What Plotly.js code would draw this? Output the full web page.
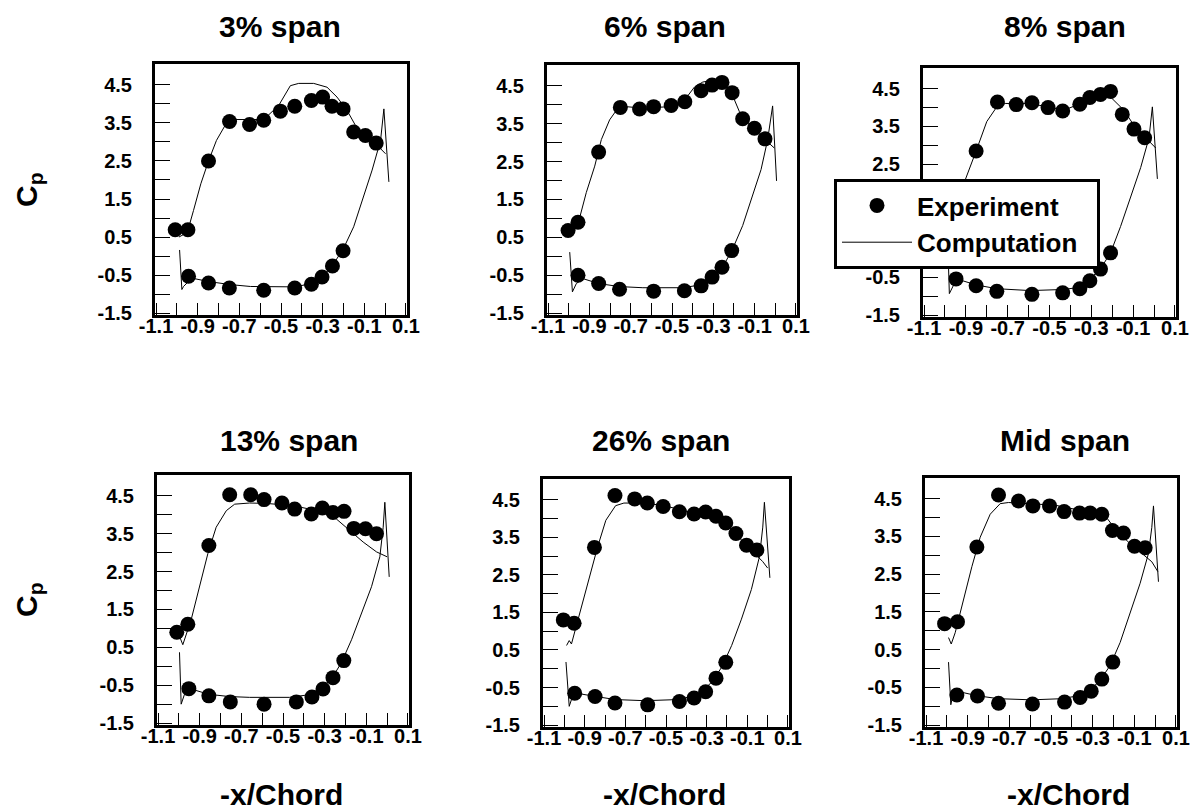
<!DOCTYPE html>
<html>
<head>
<meta charset="utf-8">
<script src="https://cdn.plot.ly/plotly-3.0.1.min.js"></script>
<style>html,body{margin:0;padding:0;background:#fff;}#chart{width:1202px;height:812px;}</style>
</head>
<body>
<div id="chart"></div>
<script>
// ---------- tick labels ----------
const xTickVals = [-1.1, -0.9, -0.7, -0.5, -0.3, -0.1, 0.1];
const xTickText = ['-1.1', '-0.9', '-0.7', '-0.5', '-0.3', '-0.1', '0.1'];
const xMinorVals = [-1.0, -0.8, -0.6, -0.4, -0.2, 0.0];
const yTickVals = [-1.5, -0.5, 0.5, 1.5, 2.5, 3.5, 4.5];
const yTickText = ['-1.5', '-0.5', '0.5', '1.5', '2.5', '3.5', '4.5'];
const yMinorVals = [-1, 0, 1, 2, 3, 4];
const panelTitles = ['3% span', '6% span', '8% span', '13% span', '26% span', 'Mid span'];

// ---------- 3% span ----------
const span03ExpX = [-1.008, -0.947, -0.848, -0.747, -0.651, -0.583, -0.503, -0.434, -0.354, -0.300, -0.255, -0.202, -0.151, -0.095, -0.043,
                    -0.944, -0.848, -0.748, -0.583, -0.434, -0.354, -0.303, -0.253, -0.202];
const span03ExpY = [0.69, 0.69, 2.50, 3.54, 3.46, 3.57, 3.81, 3.94, 4.09, 4.18, 3.94, 3.87, 3.26, 3.17, 2.97,
                    -0.53, -0.71, -0.84, -0.90, -0.84, -0.74, -0.55, -0.26, 0.14];
const span03CompX = [-0.99, -0.95, -0.92, -0.885, -0.848, -0.81, -0.768, -0.736, -0.583, -0.511, -0.455, -0.415, -0.343, -0.279, -0.231, -0.183, -0.143, -0.103, -0.054, 0.002, null,
                     -0.987, -0.976, -0.968, -0.928, -0.848, -0.744, -0.647, -0.567, -0.439, -0.375, -0.311, -0.255, -0.199, -0.151, -0.103, -0.0625, -0.022, -0.006, 0.018];
const span03CompY = [0.50, 0.62, 1.20, 1.90, 2.50, 3.04, 3.44, 3.59, 3.59, 3.96, 4.48, 4.54, 4.54, 4.44, 4.18, 3.83, 3.44, 3.22, 3.00, 2.69, null,
                     0.16, -0.88, -0.80, -0.58, -0.67, -0.75, -0.80, -0.81, -0.81, -0.75, -0.58, -0.27, 0.21, 0.77, 1.56, 2.26, 3.04, 3.87, 1.95];

// ---------- 6% span ----------
const span06ExpX = [-1.003, -0.955, -0.855, -0.750, -0.657, -0.589, -0.504, -0.438, -0.359, -0.306, -0.258, -0.209, -0.158, -0.101, -0.050,
                    -0.955, -0.855, -0.754, -0.589, -0.440, -0.359, -0.306, -0.258, -0.211];
const span06ExpY = [0.68, 0.90, 2.75, 3.93, 3.89, 3.95, 3.98, 4.08, 4.37, 4.52, 4.59, 4.32, 3.63, 3.38, 3.10,
                    -0.50, -0.72, -0.87, -0.92, -0.91, -0.78, -0.55, -0.29, 0.15];
const span06CompX = [-0.995, -0.955, -0.915, -0.874, -0.842, -0.802, -0.762, -0.721, -0.641, -0.512, -0.440, -0.391, -0.351, -0.303, -0.255, -0.214, -0.174, -0.126, -0.077, -0.005, null,
                     -0.995, -0.982, -0.963, -0.931, -0.855, -0.754, -0.641, -0.448, -0.367, -0.311, -0.254, -0.206, -0.158, -0.110, -0.069, -0.037, -0.013, 0.006];
const span06CompY = [0.55, 0.85, 1.68, 2.38, 3.08, 3.60, 3.91, 3.95, 3.91, 3.95, 4.12, 4.47, 4.60, 4.65, 4.60, 4.34, 3.82, 3.47, 3.21, 2.86, null,
                     0.11, -0.94, -0.72, -0.59, -0.72, -0.80, -0.83, -0.83, -0.76, -0.57, -0.28, 0.20, 0.81, 1.59, 2.29, 3.08, 3.97, 1.99];

// ---------- 8% span ----------
const span08ExpX = [-0.851, -0.749, -0.659, -0.584, -0.507, -0.437, -0.355, -0.307, -0.256, -0.208, -0.152, -0.096, -0.045,
                    -0.947, -0.851, -0.752, -0.584, -0.437, -0.355, -0.307, -0.256, -0.208];
const span08ExpY = [2.85, 4.15, 4.08, 4.13, 4.00, 3.91, 4.09, 4.27, 4.35, 4.43, 3.82, 3.43, 3.20,
                    -0.54, -0.72, -0.87, -0.95, -0.91, -0.80, -0.59, -0.28, 0.15];
const span08CompX = [-0.99, -0.95, -0.92, -0.904, -0.851, -0.800, -0.752, -0.712, -0.592, -0.512, -0.432, -0.368, -0.304, -0.248, -0.208, -0.144, -0.088, -0.040, 0.008, null,
                     -0.985, -0.979, -0.944, -0.851, -0.752, -0.592, -0.432, -0.352, -0.304, -0.256, -0.208, -0.160, -0.112, -0.064, -0.024, -0.008, 0.016];
const span08CompY = [0.55, 0.80, 1.50, 2.07, 2.85, 3.63, 4.02, 4.11, 4.11, 4.02, 3.93, 4.07, 4.28, 4.37, 4.28, 3.93, 3.46, 3.20, 2.93, null,
                     0.15, -0.93, -0.54, -0.70, -0.80, -0.85, -0.82, -0.76, -0.53, -0.27, 0.15, 0.85, 1.63, 2.41, 3.20, 4.02, 2.11];

// ---------- 13% span ----------
const span13ExpX = [-1.010, -0.957, -0.856, -0.756, -0.655, -0.591, -0.505, -0.444, -0.364, -0.311, -0.260, -0.207, -0.160, -0.104, -0.051,
                    -0.952, -0.856, -0.753, -0.591, -0.436, -0.361, -0.308, -0.260, -0.208];
const span13ExpY = [0.90, 1.11, 3.19, 4.53, 4.53, 4.40, 4.31, 4.15, 4.02, 4.18, 4.06, 4.09, 3.64, 3.63, 3.50,
                    -0.59, -0.78, -0.94, -1.00, -0.94, -0.81, -0.60, -0.30, 0.15];
const span13CompX = [-0.994, -0.981, -0.941, -0.901, -0.861, -0.821, -0.772, -0.732, -0.660, -0.580, -0.452, -0.372, -0.308, -0.244, -0.179, -0.115, -0.051, 0.000, null,
                     -0.997, -0.989, -0.973, -0.941, -0.856, -0.756, -0.660, -0.468, -0.388, -0.324, -0.268, -0.220, -0.171, -0.123, -0.075, -0.035, -0.019, -0.011, 0.010];
const span13CompY = [0.75, 0.57, 1.23, 2.10, 2.97, 3.67, 4.11, 4.28, 4.31, 4.30, 4.24, 4.15, 4.06, 3.89, 3.58, 3.28, 3.02, 2.89, null,
                     0.37, -1.00, -0.74, -0.60, -0.74, -0.80, -0.82, -0.82, -0.76, -0.60, -0.34, 0.09, 0.70, 1.40, 2.10, 2.89, 3.67, 4.33, 2.36];

// ---------- 26% span ----------
const span26ExpX = [-1.005, -0.952, -0.852, -0.751, -0.654, -0.592, -0.514, -0.434, -0.362, -0.305, -0.254, -0.206, -0.156, -0.104, -0.053,
                    -0.949, -0.849, -0.751, -0.590, -0.434, -0.362, -0.305, -0.254, -0.206];
const span26ExpY = [1.30, 1.21, 3.23, 4.61, 4.52, 4.41, 4.32, 4.18, 4.12, 4.17, 4.06, 3.88, 3.60, 3.29, 3.16,
                    -0.65, -0.74, -0.91, -0.96, -0.87, -0.78, -0.61, -0.25, 0.17];
const span26CompX = [-0.989, -0.976, -0.965, -0.924, -0.876, -0.836, -0.796, -0.748, -0.707, -0.651, -0.523, -0.426, -0.346, -0.265, -0.201, -0.137, -0.072, -0.024, 0.000, null,
                     -0.992, -0.976, -0.965, -0.941, -0.844, -0.748, -0.603, -0.442, -0.378, -0.322, -0.273, -0.225, -0.177, -0.129, -0.080, -0.040, -0.024, -0.016, 0.011];
const span26CompY = [0.62, 0.75, 0.66, 1.50, 2.46, 3.25, 3.95, 4.34, 4.41, 4.41, 4.36, 4.23, 4.12, 4.04, 3.82, 3.47, 3.12, 2.85, 2.68, null,
                     0.18, -1.00, -0.82, -0.65, -0.74, -0.82, -0.85, -0.82, -0.74, -0.61, -0.34, 0.05, 0.62, 1.32, 2.11, 2.99, 3.77, 4.43, 2.42];

// ---------- Mid span ----------
const spanMidExpX = [-1.011, -0.949, -0.856, -0.752, -0.656, -0.587, -0.507, -0.437, -0.363, -0.312, -0.256, -0.205, -0.152, -0.099, -0.048,
                     -0.952, -0.853, -0.752, -0.589, -0.435, -0.360, -0.307, -0.256, -0.203];
const spanMidExpY = [1.19, 1.24, 3.22, 4.60, 4.44, 4.31, 4.31, 4.16, 4.12, 4.12, 4.09, 3.66, 3.59, 3.24, 3.20,
                     -0.70, -0.73, -0.92, -0.94, -0.89, -0.77, -0.60, -0.28, 0.17];
const spanMidCompX = [-0.992, -0.979, -0.960, -0.920, -0.880, -0.840, -0.792, -0.744, -0.704, -0.608, -0.480, -0.384, -0.288, -0.240, -0.192, -0.128, -0.064, -0.016, 0.013, null,
                      -0.992, -0.981, -0.968, -0.944, -0.856, -0.752, -0.592, -0.448, -0.368, -0.312, -0.264, -0.216, -0.168, -0.120, -0.072, -0.032, -0.016, -0.008, 0.016];
const spanMidCompY = [0.82, 0.65, 0.95, 1.83, 2.70, 3.48, 4.09, 4.37, 4.40, 4.37, 4.33, 4.22, 4.18, 4.05, 3.70, 3.35, 3.05, 2.83, 2.57, null,
                      0.17, -0.96, -0.61, -0.61, -0.72, -0.80, -0.83, -0.80, -0.72, -0.57, -0.31, 0.08, 0.69, 1.48, 2.26, 3.05, 3.74, 4.31, 2.30];

const panels = [
  {ex: span03ExpX, ey: span03ExpY, cx: span03CompX, cy: span03CompY},
  {ex: span06ExpX, ey: span06ExpY, cx: span06CompX, cy: span06CompY},
  {ex: span08ExpX, ey: span08ExpY, cx: span08CompX, cy: span08CompY},
  {ex: span13ExpX, ey: span13ExpY, cx: span13CompX, cy: span13CompY},
  {ex: span26ExpX, ey: span26ExpY, cx: span26CompX, cy: span26CompY},
  {ex: spanMidExpX, ey: spanMidExpY, cx: spanMidCompX, cy: spanMidCompY}
];

// all tick positions (labelled + unlabelled) built from the arrays above
const xAllVals = xTickVals.concat(xMinorVals).sort((a, b) => a - b);
const xAllText = xAllVals.map(v => { const k = xTickVals.indexOf(v); return k >= 0 ? xTickText[k] : ''; });
const yAllVals = yTickVals.concat(yMinorVals).sort((a, b) => a - b);
const yAllText = yAllVals.map(v => { const k = yTickVals.indexOf(v); return k >= 0 ? yTickText[k] : ''; });

// ---------- layout geometry (pixels) ----------
const W = 1202, H = 812;
const boxes = [ // [left, right, top, bottom]
  [155, 407, 64, 315],
  [547, 797, 65, 315],
  [923, 1176, 68, 317],
  [157, 409, 475, 725],
  [543, 789, 479, 727],
  [925, 1177, 478, 727]
];
const titlePos = [[280, 26], [665, 26], [1065, 26], [289, 440], [661, 440], [1065, 440]];
const xTitlePos = [[281, 794], [664, 794], [1068, 794]];
const cpPos = [[28, 190], [28, 600]];

const FONT = 'Liberation Sans, Arial, Helvetica, sans-serif';
const traces = [];
const layout = {
  width: W, height: H,
  margin: {l: 0, r: 0, t: 0, b: 0},
  paper_bgcolor: '#fff', plot_bgcolor: '#fff',
  font: {family: FONT, color: '#000'},
  showlegend: true,
  legend: {
    x: 834 / W, y: 1 - 179 / H, xanchor: 'left', yanchor: 'top',
    bgcolor: '#fff', bordercolor: '#000', borderwidth: 3,
    font: {family: FONT, size: 26, weight: 'bold', color: '#000'},
    itemwidth: 70, tracegroupgap: 0
  },
  annotations: [],
  shapes: []
};

panels.forEach((p, i) => {
  const n = i === 0 ? '' : String(i + 1);
  const b = boxes[i];
  traces.push({
    type: 'scatter', mode: 'lines', x: p.cx, y: p.cy,
    xaxis: 'x' + n, yaxis: 'y' + n,
    line: {color: '#000', width: 1}, connectgaps: false,
    name: 'Computation\u00a0\u00a0', legendrank: 2, showlegend: i === 0, hoverinfo: 'skip'
  });
  traces.push({
    type: 'scatter', mode: 'markers', x: p.ex, y: p.ey,
    xaxis: 'x' + n, yaxis: 'y' + n,
    marker: {color: '#000', size: 15, symbol: 'circle'},
    name: 'Experiment', legendrank: 1, showlegend: i === 0
  });
  const tf = {family: FONT, size: 20, weight: 'bold', color: '#000'};
  layout['xaxis' + n] = {
    domain: [b[0] / W, b[1] / W], anchor: 'y' + n,
    range: [-1.105, 0.105], showgrid: false, zeroline: false,
    showline: true, mirror: true, linewidth: 3, linecolor: '#000',
    ticks: 'inside', ticklen: 12, tickwidth: 1, tickcolor: '#000',
    tickmode: 'array', tickvals: xAllVals, ticktext: xAllText,
    tickfont: tf, ticklabelstandoff: -9, fixedrange: true
  };
  layout['yaxis' + n] = {
    domain: [1 - b[3] / H, 1 - b[2] / H], anchor: 'x' + n,
    range: [-1.55, 5.05], showgrid: false, zeroline: false,
    showline: true, mirror: true, linewidth: 3, linecolor: '#000',
    ticks: 'inside', ticklen: 15, tickwidth: 1, tickcolor: '#000',
    tickmode: 'array', tickvals: yAllVals, ticktext: yAllText,
    tickfont: tf, ticklabelstandoff: 16, fixedrange: true
  };
  layout.annotations.push({
    xref: 'paper', yref: 'paper', x: titlePos[i][0] / W, y: 1 - titlePos[i][1] / H,
    xanchor: 'center', yanchor: 'middle', showarrow: false,
    text: panelTitles[i], font: {family: FONT, size: 30, weight: 'bold', color: '#000'}
  });
});

xTitlePos.forEach(p => layout.annotations.push({
  xref: 'paper', yref: 'paper', x: p[0] / W, y: 1 - p[1] / H,
  xanchor: 'center', yanchor: 'middle', showarrow: false,
  text: '-x/Chord', font: {family: FONT, size: 30, weight: 'bold', color: '#000'}
}));
cpPos.forEach(p => layout.annotations.push({
  xref: 'paper', yref: 'paper', x: p[0] / W, y: 1 - p[1] / H,
  xanchor: 'center', yanchor: 'middle', showarrow: false, textangle: -90,
  text: 'C<sub>p</sub>', font: {family: FONT, size: 30, weight: 'bold', color: '#000'}
}));

Plotly.newPlot('chart', traces, layout, {displayModeBar: false, staticPlot: true});
</script>
</body>
</html>
